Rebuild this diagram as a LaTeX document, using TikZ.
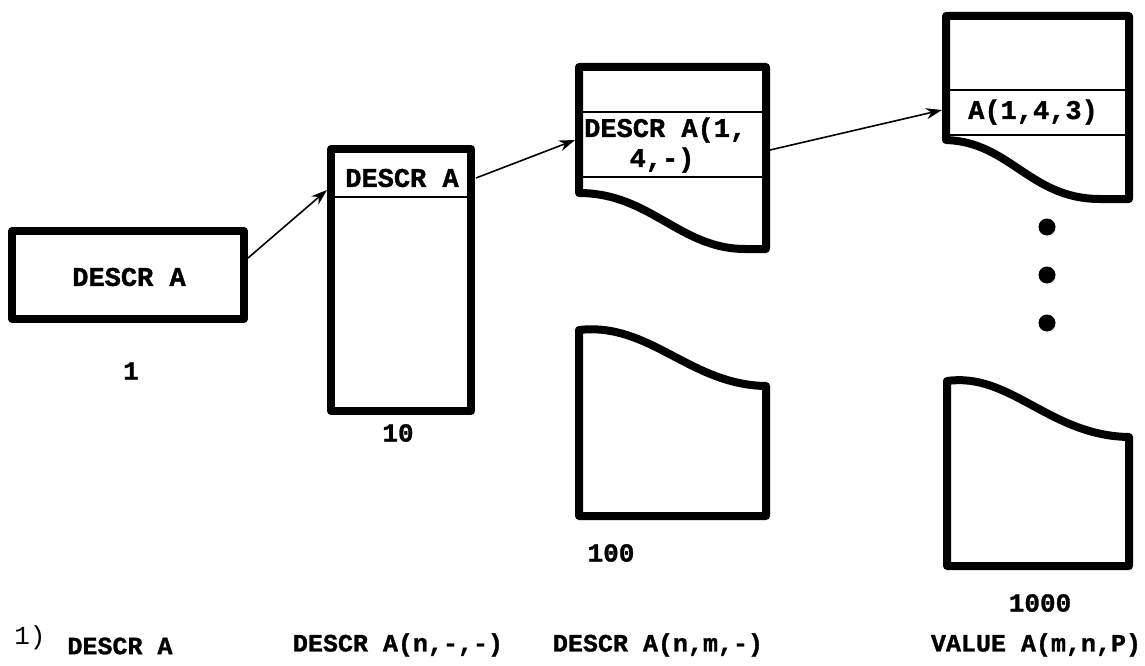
\documentclass[tikz,border=0pt]{standalone}
\usepackage{fontspec}
\newfontfamily\tw{Liberation Mono}[BoldFeatures={FakeBold=1.2}]
\usetikzlibrary{arrows.meta}
\begin{document}
\begin{tikzpicture}[x=1pt,y=-1pt,
  thickbox/.style={line width=8pt, line join=round, line cap=round},
  sepline/.style={line width=1.6pt},
  lbl/.style={font=\tw\bfseries\fontsize{27}{30}\selectfont, inner sep=0pt},
  caption/.style={font=\tw\bfseries\fontsize{25}{28}\selectfont, inner sep=0pt},
  numlbl/.style={font=\tw\bfseries\fontsize{26}{30}\selectfont, inner sep=0pt},
  link/.style={line width=1.6pt, -{Stealth[length=16pt,width=11pt]}},
  dotmark/.style={circle, fill=black, minimum size=17pt, inner sep=0pt},
]
\useasboundingbox (0,0) rectangle (1145,666);

% box 1
\draw[thickbox] (12,231) rectangle (244,319);
\node[lbl] (t1) at (129,277) {DESCR A};
\node[numlbl] (n1) at (131,371) {1};

% box 2
\draw[thickbox] (331,149) rectangle (471,411);
\draw[sepline] (331,197) -- (471,197);
\node[lbl] (t2) at (402,178) {DESCR A};
\node[numlbl] (n2) at (398,433) {10};

% box 3 upper
\draw[thickbox] (579,193) -- (579,67) -- (766,67) -- (766,249) -- (745,249)
  .. controls (680,249) and (650,193) .. (579,193) -- cycle;
\draw[sepline] (579,112) -- (766,112);
\draw[sepline] (579,177) -- (766,177);
\node[lbl, anchor=west] (t3a) at (584,130) {DESCR A(1,};
\node[lbl] (t3b) at (662,160) {4,-)};

% box 3 lower
\draw[thickbox] (579,330) .. controls (650,322) and (690,385) .. (766,386)
  -- (766,516) -- (579,516) -- cycle;
\node[numlbl] (n3) at (611,553) {100};

% box 4 upper
\draw[thickbox] (946,140) -- (946,16) -- (1129,16) -- (1129,199) -- (1100,199)
  .. controls (1030,199) and (1010,142) .. (946,140) -- cycle;
\draw[sepline] (946,90) -- (1129,90);
\draw[sepline] (946,135) -- (1129,135);
\node[lbl] (t4) at (1033,112) {A(1,4,3)};

% dots
\node[dotmark] (d1) at (1047,227) {};
\node[dotmark] (d2) at (1047,275) {};
\node[dotmark] (d3) at (1047,323) {};

% box 4 lower
\draw[thickbox] (947,381) .. controls (1010,372) and (1050,436) .. (1129,437)
  -- (1129,566) -- (947,566) -- cycle;
\node[numlbl] (n4) at (1040,603) {1000};

% connectors
\coordinate (o1) at (248,258);
\coordinate (i2) at (327,190);
\coordinate (o2) at (476,178);
\coordinate (i3) at (575,140);
\coordinate (o3) at (770,150);
\coordinate (i4) at (942,110);
\draw[link] (o1) -- (i2);
\draw[link] (o2) -- (i3);
\draw[link] (o3) -- (i4);

% bottom captions
\node[font=\tw\fontsize{26}{28}\selectfont, inner sep=0pt] (c0) at (30,638) {1)};
\node[caption] (c1) at (120,646) {DESCR A};
\node[caption] (c2) at (398,645) {DESCR A(n,-,-)};
\node[caption] (c3) at (658,645) {DESCR A(n,m,-)};
\node[caption] (c4) at (1036,645) {VALUE A(m,n,P)};
\end{tikzpicture}
\end{document}
